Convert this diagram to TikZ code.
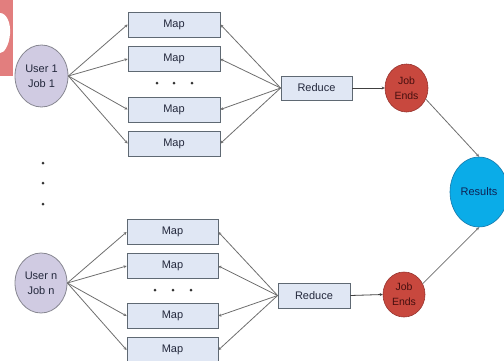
\documentclass[tikz,border=0pt]{standalone}
\usepackage{fontspec}
\setmainfont{Liberation Sans}
\usetikzlibrary{shapes.geometric,arrows.meta}
\definecolor{mapfill}{RGB}{224,231,244}
\definecolor{mapdraw}{RGB}{95,105,115}
\definecolor{userfill}{RGB}{208,203,226}
\definecolor{userdraw}{RGB}{135,135,145}
\definecolor{jobfill}{RGB}{200,72,62}
\definecolor{jobdraw}{RGB}{150,50,45}
\definecolor{jobtxt}{RGB}{70,15,15}
\definecolor{resfill}{RGB}{10,172,232}
\definecolor{resdraw}{RGB}{20,120,170}
\definecolor{restxt}{RGB}{15,35,85}
\definecolor{txt}{RGB}{35,40,60}
\definecolor{conn}{RGB}{110,110,110}
\definecolor{blob}{RGB}{226,126,126}
\tikzset{
  mapbox/.style={draw=mapdraw,fill=mapfill,line width=0.8pt,minimum width=92pt,minimum height=25pt,inner sep=0pt,text=txt,font=\fontsize{11}{13}\selectfont},
  userc/.style={ellipse,draw=userdraw,fill=userfill,line width=0.8pt,inner sep=0pt,text=txt,align=center,font=\fontsize{11}{15}\selectfont},
  jobc/.style={ellipse,draw=jobdraw,fill=jobfill,line width=0.6pt,inner sep=0pt,text=jobtxt,align=center,font=\fontsize{10.5}{15}\selectfont},
  resc/.style={ellipse,draw=resdraw,fill=resfill,line width=0.6pt,inner sep=0pt,text=restxt,font=\fontsize{11}{13}\selectfont},
  dotc/.style={circle,fill=black!80,inner sep=0pt,minimum size=3pt},
  fan/.style={draw=conn,line width=0.8pt,-{Stealth[length=3pt,width=3pt]}},
  back/.style={draw=conn,line width=0.8pt,{Stealth[length=3pt,width=3pt]}-},
  link/.style={draw=black!75,line width=0.8pt,-{Stealth[length=3pt,width=3pt]}}
}
\begin{document}
\begin{tikzpicture}[x=1pt,y=-1pt]
\useasboundingbox (0,0) rectangle (504,360);
\clip (0,0) rectangle (504,360);
% red blob top-left
\fill[blob] (0,0) rectangle (13,76);
\fill[white] (0,13) .. controls (6,13) and (11,22) .. (10,34) .. controls (9,46) and (4,53) .. (0,53) -- cycle;
% top group
\node[userc,minimum width=53pt,minimum height=62pt] (u1) at (41.5,76) {User 1\\Job 1};
\node[mapbox] (m11) at (174,24.5) {Map};
\node[mapbox] (m12) at (174,59) {Map};
\node[mapbox] (m13) at (174,109.5) {Map};
\node[mapbox] (m14) at (174,143.5) {Map};
\node[dotc] (d11) at (157,83) {};
\node[dotc] (d12) at (174,83) {};
\node[dotc] (d13) at (192,83) {};
\node[mapbox,minimum width=71pt,minimum height=24pt] (r1) at (316.5,88) {Reduce};
\node[jobc,minimum width=43pt,minimum height=48pt] (j1) at (406.5,88) {Job\\Ends};
% vertical dots
\node[dotc] (v1) at (43,163) {};
\node[dotc] (v2) at (43,183) {};
\node[dotc] (v3) at (43,204) {};
% results
\node[resc,minimum width=58pt,minimum height=70pt] (res) at (479,192) {Results};
% bottom group
\node[userc,minimum width=52pt,minimum height=60pt] (un) at (41,283) {User n\\Job n};
\node[mapbox,minimum width=91pt] (m21) at (172.5,232) {Map};
\node[mapbox,minimum width=91pt] (m22) at (172.5,266) {Map};
\node[mapbox,minimum width=91pt] (m23) at (172.5,316) {Map};
\node[mapbox,minimum width=91pt] (m24) at (172.5,350) {Map};
\node[dotc] (d21) at (155,290) {};
\node[dotc] (d22) at (173,290) {};
\node[dotc] (d23) at (191,290) {};
\node[mapbox,minimum width=72pt,minimum height=25pt] (r2) at (314,295.5) {Reduce};
\node[jobc,minimum width=42pt,minimum height=45pt] (j2) at (404,294.5) {Job\\Ends};
% connectors top
\foreach \m in {m11,m12,m13,m14}{
  \draw[fan] (u1.east) -- (\m.west);
  \draw[back] (\m.east) -- (r1.west);
}
\draw[link] (r1.east) -- (j1.west);
\draw[link,draw=conn] (j1.-30) -- (res.north);
% connectors bottom
\foreach \m in {m21,m22,m23,m24}{
  \draw[fan] (un.east) -- (\m.west);
  \draw[back] (\m.east) -- (r2.west);
}
\draw[link] (r2.east) -- (j2.west);
\draw[link,draw=conn] (j2.30) -- (res.south);
\end{tikzpicture}
\end{document}
